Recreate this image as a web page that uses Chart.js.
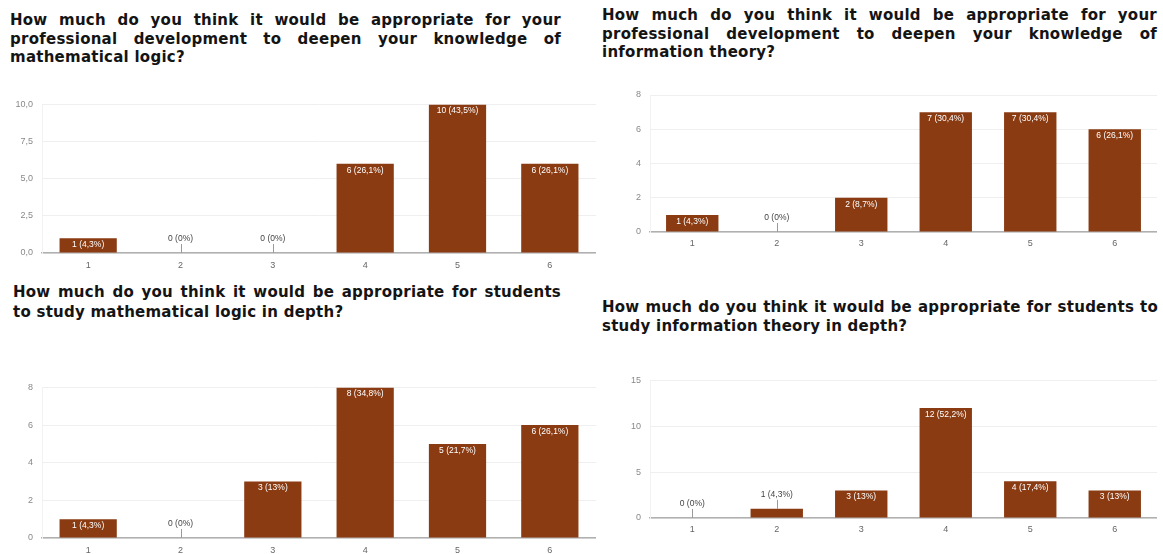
<!DOCTYPE html>
<html>
<head>
<meta charset="utf-8">
<script src="https://cdn.jsdelivr.net/npm/chart.js@4.4.1/dist/chart.umd.min.js"></script>
<style>
  html, body { margin: 0; padding: 0; background: #fff; }
  body { width: 1163px; height: 554px; position: relative; overflow: hidden; }
  .title {
    position: absolute;
    font-family: 'DejaVu Sans', Verdana, sans-serif;
    font-weight: bold;
    font-size: 15px;
    letter-spacing: 0.25px;
    line-height: 18.5px;
    color: #141414;
  }
  .title .j { text-align: justify; text-align-last: justify; }
  .title .l { white-space: nowrap; }
  canvas { position: absolute; }
</style>
</head>
<body>

<div class="title" style="left:10px; top:11px; width:551px;">
  <div class="j">How much do you think it would be appropriate for your</div>
  <div class="j">professional development to deepen your knowledge of</div>
  <div class="l">mathematical logic?</div>
</div>
<div class="title" style="left:602px; top:6px; width:555px;">
  <div class="j">How much do you think it would be appropriate for your</div>
  <div class="j">professional development to deepen your knowledge of</div>
  <div class="l">information theory?</div>
</div>
<div class="title" style="left:13px; top:283px; width:548px; line-height:19.5px;">
  <div class="j">How much do you think it would be appropriate for students</div>
  <div class="l">to study mathematical logic in depth?</div>
</div>
<div class="title" style="left:602px; top:298px; width:556px;">
  <div class="j">How much do you think it would be appropriate for students to</div>
  <div class="l">study information theory in depth?</div>
</div>

<canvas id="logicDev" width="596" height="190" style="left:0; top:90px;"></canvas>
<canvas id="infoDev" width="567" height="175" style="left:590px; top:80px;"></canvas>
<canvas id="logicStud" width="596" height="181" style="left:0; top:373px;"></canvas>
<canvas id="infoStud" width="567" height="180" style="left:590px; top:366px;"></canvas>

<script>
// answers on the 1-6 scale
const categories = ['1', '2', '3', '4', '5', '6'];

// professional development - mathematical logic
const logicDevCounts = [1, 0, 0, 6, 10, 6];
const logicDevPercents = ['4,3%', '0%', '0%', '26,1%', '43,5%', '26,1%'];

// professional development - information theory
const infoDevCounts = [1, 0, 2, 7, 7, 6];
const infoDevPercents = ['4,3%', '0%', '8,7%', '30,4%', '30,4%', '26,1%'];

// students - mathematical logic
const logicStudCounts = [1, 0, 3, 8, 5, 6];
const logicStudPercents = ['4,3%', '0%', '13%', '34,8%', '21,7%', '26,1%'];

// students - information theory
const infoStudCounts = [0, 1, 3, 12, 4, 3];
const infoStudPercents = ['0%', '4,3%', '13%', '52,2%', '17,4%', '13%'];

const barColor = '#8a3b12';
const smallFont = { family: "'Liberation Sans', Arial, sans-serif", size: 9 };

// writes "n (p%)" inside the bar, or above it with a small leader when the bar is too short
const barLabels = {
    id: 'barLabels',
    afterDatasetsDraw(chart) {
        const ctx = chart.ctx;
        const ds = chart.data.datasets[0];
        const meta = chart.getDatasetMeta(0);
        ctx.save();
        ctx.font = '8.5px "Liberation Sans", Arial, sans-serif';
        ctx.textAlign = 'center';
        ctx.textBaseline = 'middle';
        meta.data.forEach((bar, i) => {
            const text = ds.data[i] + ' (' + ds.percents[i] + ')';
            if (bar.base - bar.y >= 12) {
                ctx.fillStyle = '#ffffff';
                ctx.fillText(text, bar.x, bar.y + 6.5);
            } else {
                ctx.strokeStyle = '#9a9a9a';
                ctx.lineWidth = 1;
                ctx.beginPath();
                ctx.moveTo(Math.round(bar.x) + 0.5, bar.y);
                ctx.lineTo(Math.round(bar.x) + 0.5, bar.y - 9);
                ctx.stroke();
                ctx.fillStyle = '#444444';
                ctx.fillText(text, bar.x, bar.y - 14);
            }
        });
        ctx.restore();
    }
};

function drawSurvey(id, counts, percents, yMax, yStep, decimals, yWidth, padTop, xHeight, xPad) {
    const ctx = document.getElementById(id).getContext('2d');
    new Chart(ctx, {
        type: 'bar',
        data: {
            labels: categories,
            datasets: [{
                data: counts,
                percents: percents,
                backgroundColor: barColor,
                borderWidth: 0,
                categoryPercentage: 1,
                barPercentage: 0.62
            }]
        },
        options: {
            responsive: false,
            animation: false,
            layout: { padding: { top: padTop, right: 0, bottom: 0, left: 0 } },
            plugins: {
                legend: { display: false },
                tooltip: { enabled: false }
            },
            scales: {
                x: {
                    grid: { display: false, drawTicks: false },
                    border: { display: true, color: '#b0b0b0', width: 1.5 },
                    ticks: { padding: xPad, color: '#666', font: smallFont },
                    afterFit: scale => { scale.height = xHeight; }
                },
                y: {
                    min: 0,
                    max: yMax,
                    grid: { color: '#efefef', drawTicks: false },
                    border: { display: true, color: '#f2f2f2' },
                    ticks: {
                        stepSize: yStep,
                        padding: 9,
                        color: '#888',
                        font: smallFont,
                        callback: v => decimals ? v.toFixed(decimals).replace('.', ',') : v
                    },
                    afterFit: scale => { scale.width = yWidth; }
                }
            }
        },
        plugins: [barLabels]
    });
}

document.addEventListener('DOMContentLoaded', () => {
    drawSurvey('logicDev', logicDevCounts, logicDevPercents, 10, 2.5, 1, 42, 14, 27, 7);
    drawSurvey('infoDev', infoDevCounts, infoDevPercents, 8, 2, 0, 60, 15, 23, 6);
    drawSurvey('logicStud', logicStudCounts, logicStudPercents, 8, 2, 0, 42, 14, 16, 7);
    drawSurvey('infoStud', infoStudCounts, infoStudPercents, 15, 5, 0, 60, 14, 28, 6);
});
</script>
</body>
</html>
